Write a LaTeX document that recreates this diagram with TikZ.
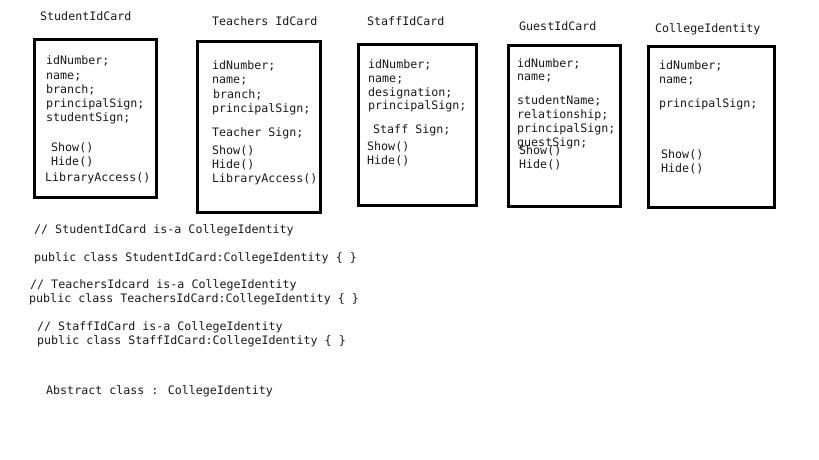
\documentclass[tikz,border=0pt]{standalone}
\usepackage{fontspec}
\setmainfont{DejaVu Sans Mono}
\setmonofont{DejaVu Sans Mono}
\begin{document}
\begin{tikzpicture}[x=1pt,y=-1pt,
  txt/.style={anchor=base west,inner sep=0pt,font=\fontsize{11.65}{13}\selectfont,text=black!90},
  card/.style={draw=black,line width=3pt}]
\useasboundingbox (0,0) rectangle (819,460);
% boxes
\draw[card] (34,40) rectangle (156,197);
\draw[card] (197,42) rectangle (320,212);
\draw[card] (358,45) rectangle (476,205);
\draw[card] (508,46) rectangle (620,206);
\draw[card] (648,47) rectangle (774,207);
% titles
\node[txt] (t1) at (40,21) {StudentIdCard};
\node[txt] (t2) at (212,26) {Teachers IdCard};
\node[txt] (t3) at (367,26) {StaffIdCard};
\node[txt] (t4) at (519,31) {GuestIdCard};
\node[txt] (t5) at (655,33) {CollegeIdentity};
% box 1
\node[txt] (a1) at (46,65) {idNumber;};
\node[txt] (a2) at (46,79) {name;};
\node[txt] (a3) at (46,93) {branch;};
\node[txt] (a4) at (46,107) {principalSign;};
\node[txt] (a5) at (46,121) {studentSign;};
\node[txt] (a6) at (51,151) {Show()};
\node[txt] (a7) at (51,165) {Hide()};
\node[txt] (a8) at (45,181) {LibraryAccess()};
% box 2
\node[txt] (b1) at (212,70) {idNumber;};
\node[txt] (b2) at (212,84) {name;};
\node[txt] (b3) at (213,98) {branch;};
\node[txt] (b4) at (212,112) {principalSign;};
\node[txt] (b5) at (212,136) {Teacher Sign;};
\node[txt] (b6) at (212,154) {Show()};
\node[txt] (b7) at (212,168) {Hide()};
\node[txt] (b8) at (212,182) {LibraryAccess()};
% box 3
\node[txt] (c1) at (368,68) {idNumber;};
\node[txt] (c2) at (368,82) {name;};
\node[txt] (c3) at (368,96) {designation;};
\node[txt] (c4) at (368,110) {principalSign;};
\node[txt] (c5) at (373,133) {Staff Sign;};
\node[txt] (c6) at (367,150) {Show()};
\node[txt] (c7) at (367,164) {Hide()};
% box 4
\node[txt] (d1) at (517,67) {idNumber;};
\node[txt] (d2) at (517,81) {name;};
\node[txt] (d3) at (517,104) {studentName;};
\node[txt] (d4) at (517,118) {relationship;};
\node[txt] (d5) at (517,132) {principalSign;};
\node[txt] (d6) at (517,146) {guestSign;};
\node[txt] (d7) at (519,154) {Show()};
\node[txt] (d8) at (519,168) {Hide()};
% box 5
\node[txt] (e1) at (659,70) {idNumber;};
\node[txt] (e2) at (659,84) {name;};
\node[txt] (e3) at (659,107) {principalSign;};
\node[txt] (e4) at (661,158) {Show()};
\node[txt] (e5) at (661,172) {Hide()};
% code
\node[txt] (f1) at (34,233) {// StudentIdCard is-a CollegeIdentity};
\node[txt] (f2) at (34,261) {public class StudentIdCard:CollegeIdentity \{ \}};
\node[txt] (f3) at (30,288) {// TeachersIdcard is-a CollegeIdentity};
\node[txt] (f4) at (29,302) {public class TeachersIdCard:CollegeIdentity \{ \}};
\node[txt] (f5) at (37,330) {// StaffIdCard is-a CollegeIdentity};
\node[txt] (f6) at (37,344) {public class StaffIdCard:CollegeIdentity \{ \}};
\node[txt] (f7) at (46,394) {Abstract class : CollegeIdentity};
\end{tikzpicture}
\end{document}
